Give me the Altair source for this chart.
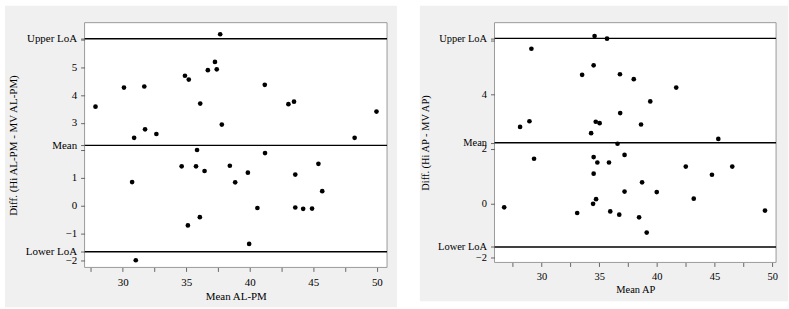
import altair as alt
import pandas as pd

# ---------------- data ----------------
loa_names = ["Upper LoA", "Mean", "Lower LoA"]

# Left panel: AL-PM
alpm_mean = [27.86, 30.10, 31.70, 30.90, 31.76, 32.65, 30.74, 31.03, 34.90, 35.20,
             36.10, 36.70, 37.26, 37.40, 37.67, 37.80, 35.85, 34.64, 35.77, 36.44,
             35.13, 36.07, 38.43, 38.85, 39.85, 39.95, 40.60, 41.18, 41.20, 43.04,
             43.48, 43.58, 43.58, 44.20, 44.90, 45.40, 45.70, 48.25, 49.97]
alpm_diff = [3.58, 4.27, 4.31, 2.45, 2.76, 2.59, 0.85, -1.98, 4.70, 4.56,
             3.69, 4.90, 5.20, 4.93, 6.20, 2.93, 2.01, 1.42, 1.42, 1.25,
             -0.72, -0.42, 1.44, 0.84, 1.19, -1.39, -0.09, 4.37, 1.90, 3.67,
             3.76, 1.12, -0.07, -0.12, -0.11, 1.51, 0.52, 2.45, 3.40]
alpm_loa = [6.04, 2.18, -1.675]

# Right panel: AP
ap_mean = [26.76, 28.14, 28.95, 29.12, 29.35, 33.09, 33.52, 34.30, 34.52, 34.60,
           34.52, 34.52, 34.47, 34.73, 34.70, 35.04, 34.84, 35.68, 35.85, 35.96,
           36.59, 36.74, 36.80, 36.82, 37.20, 37.20, 38.00, 38.46, 38.63, 38.72,
           39.12, 39.43, 39.99, 41.68, 42.51, 43.20, 44.78, 45.33, 46.54, 49.38]
ap_diff = [-0.15, 2.81, 3.02, 5.69, 1.64, -0.36, 4.73, 2.58, 5.08, 6.16,
           1.70, 1.09, -0.02, 0.15, 3.00, 2.95, 1.50, 6.06, 1.50, -0.30,
           2.19, -0.42, 4.75, 3.32, 1.78, 0.43, 4.57, -0.52, 2.90, 0.77,
           -1.08, 3.75, 0.41, 4.26, 1.35, 0.17, 1.05, 2.37, 1.35, -0.27]
ap_loa = [6.07, 2.23, -1.61]

x_tick_values = [27.5, 30, 32.5, 35, 37.5, 40, 42.5, 45, 47.5, 50]

FONT = "Liberation Serif"


def panel(mx, dy, loa, xtitle, ytitle, w, h, xdom, ydom, ylabels, yblank,
          fs, bgl, bgr, bgb):
    pts = pd.DataFrame({"m": mx, "d": dy})
    lines = pd.DataFrame({"name": loa_names, "v": loa})
    one = pd.DataFrame({"a": [0]})
    U, M, L = loa
    blank = "[" + ",".join(str(b) for b in yblank) + "]"
    lab_expr = (f"abs(datum.value - ({U})) < 1e-6 ? 'Upper LoA' : "
                f"abs(datum.value - ({M})) < 1e-6 ? 'Mean' : "
                f"abs(datum.value - ({L})) < 1e-6 ? 'Lower LoA' : "
                f"indexof({blank}, datum.value) >= 0 ? '' : datum.label")
    common = dict(grid=False, domain=False, tickSize=4, tickColor="#666",
                  labelFont=FONT, labelFontSize=fs, labelColor="black",
                  titleFont=FONT, titleFontSize=fs, titleFontWeight="normal",
                  titleColor="black", zindex=1, labelOverlap=False,
                  labelFlush=False)
    xaxis = alt.Axis(values=x_tick_values, title=xtitle,
                     labelExpr="datum.value % 5 === 0 ? datum.label : ''",
                     labelPadding=5, titlePadding=3, **common)
    yaxis = alt.Axis(values=ylabels + yblank + loa, title=ytitle,
                     labelExpr=lab_expr, labelPadding=4, titlePadding=7,
                     labelBaseline="middle", **common)
    xs = alt.Scale(domain=xdom, nice=False, zero=False)
    ys = alt.Scale(domain=ydom, nice=False, zero=False)

    bg = alt.Chart(one).mark_rect(fill="#f0f0f0").encode(
        x=alt.value(-bgl), x2=alt.value(w + bgr),
        y=alt.value(-17), y2=alt.value(h + bgb))
    plotbg = alt.Chart(one).mark_rect(fill="white", stroke="#9a9a9a",
                                      strokeWidth=1).encode(
        x=alt.value(0), x2=alt.value(w), y=alt.value(0), y2=alt.value(h))
    rules = alt.Chart(lines).mark_rule(color="black", strokeWidth=1.4).encode(
        y=alt.Y("v:Q", scale=ys, axis=yaxis))
    points = alt.Chart(pts).mark_circle(size=22, color="black", opacity=1).encode(
        x=alt.X("m:Q", scale=xs, axis=xaxis),
        y=alt.Y("d:Q", scale=ys, axis=yaxis))
    return alt.layer(bg, plotbg, rules, points).properties(width=w, height=h)


left = panel(alpm_mean, alpm_diff, alpm_loa, "Mean AL-PM",
             "Diff. (Hi AL-PM - MV AL-PM)", 304, 246, [27.0, 50.8],
             [-2.24, 6.62], [-2, -1, 0, 1, 3, 4, 5], [2, 6], 11, 80, 10, 40)
right = panel(ap_mean, ap_diff, ap_loa, "Mean AP", "Diff. (Hi AP - MV AP)",
              283, 241, [25.92, 50.34], [-2.18, 6.65], [-2, 0, 2, 4], [6],
              10.5, 75, 12, 39)

chart = alt.hconcat(left, right, spacing=21).properties(
    padding={"left": 4, "top": 4, "right": 0, "bottom": 0},
    background="white",
).configure_view(stroke="transparent")

chart.save("out.html", embed_options={"renderer": "svg", "actions": False})
